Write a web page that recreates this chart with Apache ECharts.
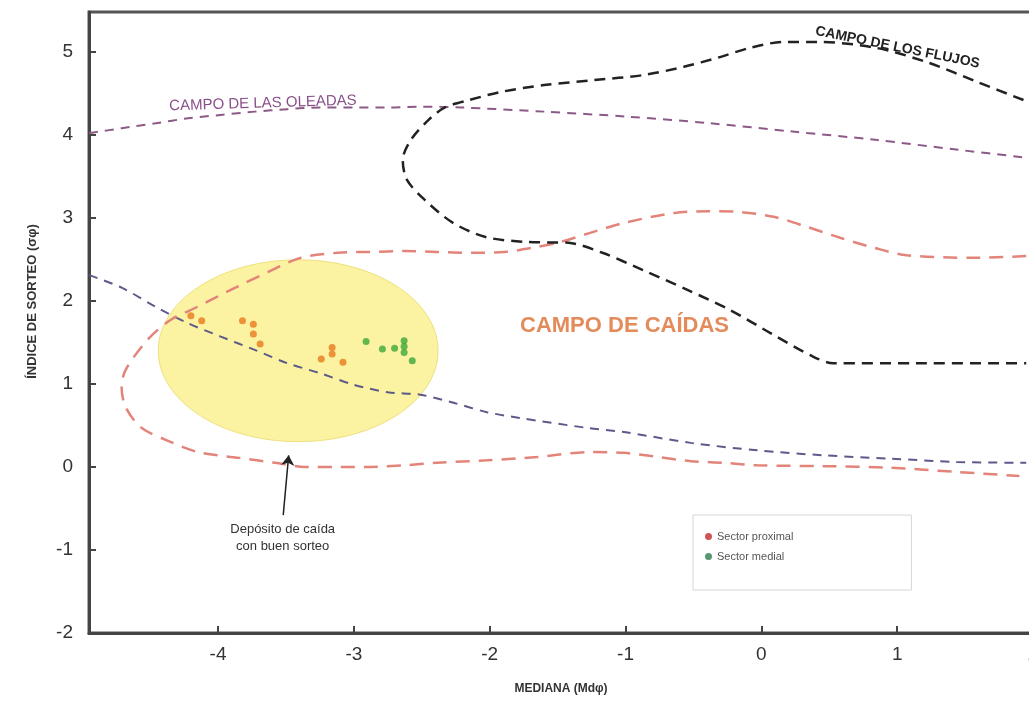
<!DOCTYPE html>
<html>
<head>
<meta charset="utf-8">
<script src="https://cdn.jsdelivr.net/npm/echarts@6/dist/echarts.min.js"></script>
<style>
  html, body { margin: 0; padding: 0; background: #fff; }
  #chart { width: 1029px; height: 704px; }
</style>
</head>
<body>
<div id="chart"></div>
<script>
// muestras (Md phi, sigma phi)
var proximalX = [-4.20, -4.12, -3.82, -3.74, -3.74, -3.69, -3.16, -3.16, -3.24, -3.08]
var proximalY = [1.82, 1.76, 1.76, 1.72, 1.60, 1.48, 1.44, 1.36, 1.30, 1.26]
var medialX = [-2.91, -2.79, -2.70, -2.63, -2.63, -2.63, -2.57]
var medialY = [1.51, 1.42, 1.43, 1.52, 1.45, 1.38, 1.28]

// campos (contornos)
var campoFlujos = [
  [1.93, 4.42], [1.60, 4.63], [1.23, 4.87], [0.84, 5.05], [0.41, 5.12], [0.17, 5.12],
  [-0.08, 5.05], [-0.32, 4.93], [-0.57, 4.82], [-0.87, 4.72], [-1.23, 4.66], [-1.60, 4.60],
  [-1.91, 4.52], [-2.15, 4.42], [-2.33, 4.33], [-2.45, 4.18], [-2.58, 3.94], [-2.64, 3.70],
  [-2.61, 3.46], [-2.48, 3.22], [-2.27, 2.94], [-2.03, 2.77], [-1.73, 2.71], [-1.42, 2.70],
  [-1.17, 2.58], [-0.87, 2.37], [-0.54, 2.13], [-0.23, 1.89], [0.07, 1.61], [0.38, 1.33],
  [0.53, 1.25], [1.14, 1.25], [1.95, 1.25]
]
var oleadasSup = [
  [-4.95, 4.02], [-4.71, 4.08], [-4.46, 4.14], [-4.22, 4.20], [-3.98, 4.24], [-3.73, 4.28],
  [-3.49, 4.31], [-3.25, 4.33], [-3.00, 4.33], [-2.75, 4.33], [-2.51, 4.34], [-2.21, 4.33],
  [-1.60, 4.28], [-0.99, 4.22], [-0.38, 4.14], [0.23, 4.04], [0.84, 3.94], [1.45, 3.82], [1.93, 3.73]
]
var oleadasInf = [
  [-4.95, 2.31], [-4.71, 2.16], [-4.46, 1.93], [-4.22, 1.73], [-3.98, 1.57], [-3.73, 1.41],
  [-3.49, 1.25], [-3.25, 1.13], [-3.00, 0.99], [-2.75, 0.90], [-2.51, 0.87], [-2.26, 0.77],
  [-2.02, 0.66], [-1.78, 0.59], [-1.28, 0.47], [-1.01, 0.42], [-0.52, 0.29], [-0.03, 0.20],
  [0.46, 0.14], [0.95, 0.10], [1.44, 0.06], [1.95, 0.05]
]
var campoCaidas = [
  [1.95, 2.54], [1.56, 2.52], [1.07, 2.55], [0.83, 2.64], [0.58, 2.76], [0.34, 2.89],
  [0.10, 3.01], [-0.15, 3.07], [-0.40, 3.08], [-0.64, 3.06], [-1.01, 2.94], [-1.26, 2.82],
  [-1.50, 2.70], [-1.65, 2.65], [-1.89, 2.59], [-2.14, 2.58], [-2.39, 2.59], [-2.63, 2.60],
  [-2.88, 2.59], [-3.12, 2.58], [-3.39, 2.52], [-3.63, 2.35], [-3.91, 2.13], [-4.15, 1.93],
  [-4.35, 1.77], [-4.52, 1.53], [-4.68, 1.17], [-4.71, 0.96], [-4.68, 0.72], [-4.57, 0.48],
  [-4.39, 0.33], [-4.15, 0.18], [-3.85, 0.11], [-3.58, 0.05], [-3.36, 0.00], [-3.12, 0.00],
  [-2.88, 0.00], [-2.63, 0.02], [-2.39, 0.05], [-2.02, 0.08], [-1.65, 0.12], [-1.26, 0.18],
  [-1.01, 0.17], [-0.76, 0.12], [-0.52, 0.07], [-0.27, 0.05], [-0.03, 0.02], [0.46, 0.01],
  [0.95, -0.01], [1.44, -0.06], [1.90, -0.11]
]

// elipse de buen sorteo: centro y semiejes
var elipseCentro = [-3.41, 1.40]
var elipseRadio = [1.03, 1.095]

// flecha de la nota
var flechaDesde = [-3.52, -0.58]
var flechaHasta = [-3.48, 0.14]

var FONT = 'Liberation Sans, Arial, sans-serif'

function zip(xs, ys) {
  return xs.map(function (x, i) { return [x, ys[i]] })
}

function curva(name, data, color, width, dash) {
  return {
    name: name,
    type: 'line',
    data: data,
    smooth: 0.3,
    symbol: 'none',
    silent: true,
    z: 3,
    lineStyle: { color: color, width: width, type: dash }
  }
}

var chart = echarts.init(document.getElementById('chart'))

var option = {
  backgroundColor: '#fff',
  animation: false,
  grid: {
    left: 89,
    top: 12,
    right: -4,
    bottom: 71,
    outerBoundsMode: 'none',
    containLabel: false,
    show: true,
    borderColor: '#555',
    borderWidth: 3
  },
  legend: {
    orient: 'vertical',
    left: 693,
    top: 515,
    padding: [16, 118, 28, 12],
    backgroundColor: '#fff',
    borderColor: '#d6d6d6',
    borderWidth: 1,
    icon: 'circle',
    itemWidth: 7,
    itemHeight: 7,
    itemGap: 9,
    textStyle: { color: '#555', fontSize: 11, fontFamily: FONT },
    data: [
      { name: 'Sector proximal', itemStyle: { color: '#c42b2b' } },
      { name: 'Sector medial', itemStyle: { color: '#2f7d50' } }
    ]
  },
  xAxis: {
    type: 'value',
    min: -4.95,
    max: 2,
    splitNumber: 7,
    name: 'MEDIANA (Mdφ)',
    nameLocation: 'middle',
    nameGap: 50,
    nameTextStyle: { color: '#333', fontSize: 12, fontWeight: 'bold', fontFamily: FONT },
    axisLine: { onZero: false, lineStyle: { color: '#444', width: 3 } },
    axisTick: { inside: true, length: 7, lineStyle: { color: '#444', width: 2 } },
    axisLabel: { showMinLabel: false, margin: 12, color: '#333', fontSize: 19, fontFamily: FONT },
    splitLine: { show: false }
  },
  yAxis: {
    type: 'value',
    min: -2,
    max: 5.48,
    interval: 1,
    name: 'ÍNDICE DE SORTEO (σφ)',
    nameLocation: 'middle',
    nameGap: 50,
    nameTextStyle: { color: '#333', fontSize: 13, fontWeight: 'bold', fontFamily: FONT, padding: [0, 0, 0, 42] },
    axisLine: { onZero: false, lineStyle: { color: '#444', width: 3 } },
    axisTick: { inside: true, length: 7, lineStyle: { color: '#444', width: 2 } },
    axisLabel: { showMaxLabel: false, margin: 16, color: '#333', fontSize: 19, fontFamily: FONT },
    splitLine: { show: false }
  },
  graphic: [
    {
      type: 'text', left: 169, top: 93, rotation: 0.03, z: 10,
      style: { text: 'CAMPO DE LAS OLEADAS', fill: '#8a4f8a', font: '15px ' + FONT }
    },
    {
      type: 'text', x: 817, y: 24, rotation: -0.2, z: 10,
      style: { text: 'CAMPO DE LOS FLUJOS', fill: '#222', font: 'bold 14px ' + FONT }
    },
    {
      type: 'text', left: 520, top: 315, z: 10,
      style: { text: 'CAMPO DE CAÍDAS', fill: '#e38b5b', font: 'bold 22px ' + FONT }
    }
  ],
  series: [
    {
      type: 'custom',
      name: 'elipse',
      coordinateSystem: 'cartesian2d',
      silent: true,
      z: 1,
      encode: { x: 0, y: 1 },
      data: [[elipseCentro[0], elipseCentro[1], elipseRadio[0], elipseRadio[1]]],
      renderItem: function (params, api) {
        var c = api.coord([api.value(0), api.value(1)])
        var s = api.size([api.value(2), api.value(3)])
        return {
          type: 'ellipse',
          shape: { cx: c[0], cy: c[1], rx: s[0], ry: s[1] },
          style: { fill: '#fbf3a2', stroke: '#eee17e', lineWidth: 1 }
        }
      }
    },
    curva('oleadas sup', oleadasSup, '#8b5a86', 2, [9, 7]),
    curva('oleadas inf', oleadasInf, '#5d5a8a', 2, [9, 7]),
    curva('caidas', campoCaidas, '#e3847a', 2.5, [14, 9]),
    curva('flujos', campoFlujos, '#222', 2.5, [11, 7]),
    {
      name: 'nota',
      type: 'line',
      data: [],
      silent: true,
      markLine: {
        silent: true,
        symbol: ['none', 'arrow'],
        symbolSize: 10,
        lineStyle: { color: '#222', width: 1.5, type: 'solid' },
        label: {
          show: true,
          position: 'start',
          distance: 6,
          formatter: 'Depósito de caída\ncon buen sorteo',
          color: '#333',
          fontSize: 13,
          lineHeight: 17,
          fontFamily: FONT
        },
        data: [[{ coord: flechaDesde }, { coord: flechaHasta }]]
      }
    },
    {
      name: 'Sector proximal',
      type: 'scatter',
      z: 5,
      symbolSize: 7,
      itemStyle: { color: '#e8791e' },
      data: zip(proximalX, proximalY)
    },
    {
      name: 'Sector medial',
      type: 'scatter',
      z: 5,
      symbolSize: 7,
      itemStyle: { color: '#3ca83a' },
      data: zip(medialX, medialY)
    }
  ]
}

chart.setOption(option)
</script>
</body>
</html>
